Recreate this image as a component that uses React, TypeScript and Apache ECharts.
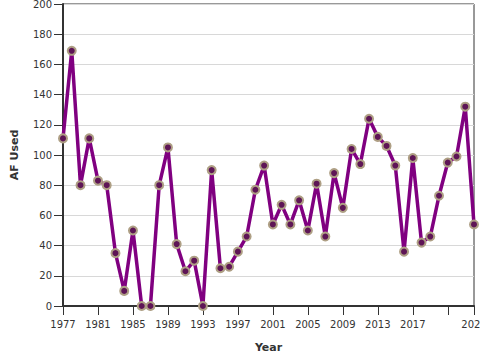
import React, { useEffect, useRef } from "react";
import * as echarts from "echarts";

const years: number[] = [
  1977, 1978, 1979, 1980, 1981, 1982, 1983, 1984, 1985, 1986, 1987, 1988,
  1989, 1990, 1991, 1992, 1993, 1994, 1995, 1996, 1997, 1998, 1999, 2000,
  2001, 2002, 2003, 2004, 2005, 2006, 2007, 2008, 2009, 2010, 2011, 2012,
  2013, 2014, 2015, 2016, 2017, 2018, 2019, 2020, 2021, 2022, 2023, 2024,
];
const afUsed: number[] = [
  111, 169, 80, 111, 83, 80, 35, 10, 50, 0, 0, 80,
  105, 41, 23, 30, 0, 90, 25, 26, 36, 46, 77, 93,
  54, 67, 54, 70, 50, 81, 46, 88, 65, 104, 94, 124,
  112, 106, 93, 36, 98, 42, 46, 73, 95, 99, 132, 54,
];
const hiddenYearLabels: number[] = [2021];

export default function App() {
  const ref = useRef<HTMLDivElement>(null);
  useEffect(() => {
    document.body.style.margin = "0";
    const chart = echarts.init(ref.current!, null, { renderer: "svg" });
    const font = "DejaVu Sans";
    chart.setOption({
      animation: false,
      textStyle: { fontFamily: font },
      grid: {
        left: 63,
        right: 6,
        top: 4,
        bottom: 54,
        show: true,
        borderColor: "#333",
        borderWidth: 1,
        containLabel: false,
        outerBoundsMode: "none",
      },
      xAxis: {
        type: "value",
        min: 1977,
        max: 2024,
        interval: 4,
        name: "Year",
        nameLocation: "middle",
        nameGap: 36,
        nameTextStyle: { fontFamily: font, fontWeight: "bold", fontSize: 11, color: "#333" },
        axisLine: { show: true, onZero: false, lineStyle: { color: "#333", width: 2 } },
        axisTick: { show: true, length: 9, lineStyle: { color: "#333", width: 1 } },
        axisLabel: {
          color: "#333",
          fontSize: 10,
          fontFamily: font,
          margin: 13,
          formatter: (v: number) => (hiddenYearLabels.includes(v) ? "" : String(v)),
        },
        splitLine: { show: false },
      },
      yAxis: {
        type: "value",
        min: 0,
        max: 200,
        interval: 20,
        name: "AF Used",
        nameLocation: "middle",
        nameGap: 43,
        nameTextStyle: { fontFamily: font, fontWeight: "bold", fontSize: 11, color: "#333" },
        axisLine: { show: true, lineStyle: { color: "#333", width: 2 } },
        axisTick: { show: true, length: 9, lineStyle: { color: "#333", width: 1 } },
        axisLabel: { color: "#333", fontSize: 10, fontFamily: font, margin: 11 },
        splitLine: { show: true, lineStyle: { color: "#d8d8d8", width: 1 } },
      },
      series: [
        {
          type: "line",
          data: years.map((y, i) => [y, afUsed[i]]),
          lineStyle: { color: "#800080", width: 3.5 },
          symbol: "circle",
          symbolSize: 8,
          itemStyle: { color: "#5e1556", borderColor: "#ae9f84", borderWidth: 2 },
          clip: false,
          z: 3,
        },
      ],
    });
    return () => chart.dispose();
  }, []);
  return <div ref={ref} style={{ width: 480, height: 360 }} />;
}
